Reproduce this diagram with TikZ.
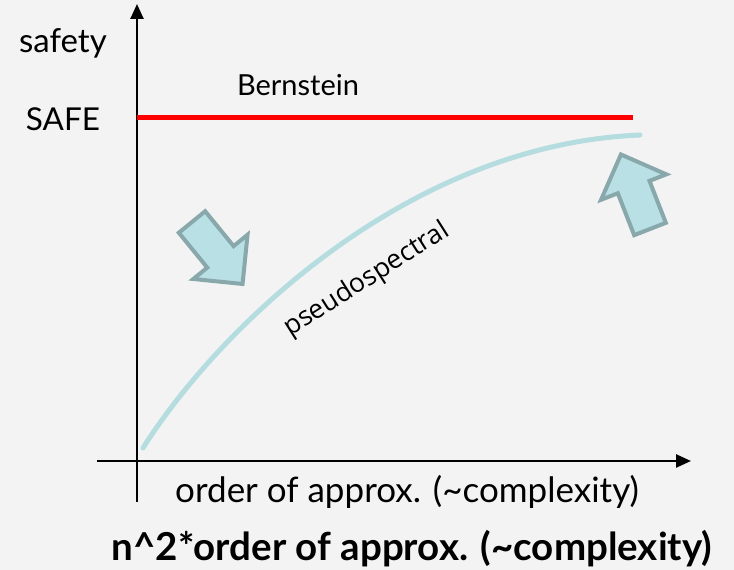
\documentclass[tikz,border=0pt]{standalone}
\usepackage{fontspec}
\setmainfont{Lato}
\newfontfamily\curvefont{Open Sans}
\usetikzlibrary{arrows.meta, positioning}
\definecolor{cbg}{HTML}{F3F3F3}
\definecolor{cred}{HTML}{FF0000}
\definecolor{cteal}{HTML}{B5DDE0}
\definecolor{cfill}{HTML}{B9E0E4}
\definecolor{cedge}{HTML}{88A8AB}
\tikzset{
  every picture/.style={x=1pt, y=1pt},
  axis/.style={line width=2.5pt, -{Triangle[length=15pt, width=13pt]}},
  lbl/.style={font=\fontsize{34}{40}\selectfont, inner sep=0pt},
  bigbold/.style={font=\fontsize{38.5}{44}\selectfont\bfseries, inner sep=0pt},
  bound/.style={draw=cred, line width=5pt},
  spectral/.style={draw=cteal, line width=5pt, line cap=round},
  fatarrow/.style={fill=cfill, draw=cedge, line width=4pt, line join=miter},
}
\newcommand{\fatarrow}[2]{%
  \draw[fatarrow, shift={#1}, rotate=#2]
    (0,-17) -- (45,-17) -- (45,-35) -- (80,0) -- (45,35) -- (45,17) -- (0,17) -- cycle;}

\begin{document}
\begin{tikzpicture}
  \fill[cbg] (0,0) rectangle (734,570);
  \useasboundingbox (0,0) rectangle (734,570);
  % axes
  \coordinate (orig) at (137,109);
  \coordinate (ybot) at (137,68);
  \coordinate (ytop) at (137,566);
  \coordinate (xleft) at (97,109);
  \coordinate (xright) at (691,109);
  \draw[axis] (ybot) -- (ytop);
  \draw[axis] (xleft) -- (xright);
  % Bernstein bound
  \coordinate (safeL) at (137,452);
  \coordinate (safeR) at (633,452);
  \draw[bound] (safeL) -- (safeR);
  % pseudospectral curve
  \coordinate (cstart) at (143,122);
  \coordinate (cend) at (640,435);
  \draw[spectral] (cstart) .. controls (212,232) and (400,425) .. (cend);
  % labels
  \node[lbl, font=\fontsize{33}{38}\selectfont] (safety) at (63,527) {safety};
  \node[lbl, font=\fontsize{31.5}{36}\selectfont] (safe) at (63,451) {SAFE};
  \node[lbl, font=\fontsize{29}{34}\selectfont] (bern) at (298,485) {Bernstein};
  \node[inner sep=0pt, font=\curvefont\fontsize{26.5}{30}\selectfont, rotate=32.4] (pseudo) at (367,290) {pseudospectral};
  \node[lbl, font=\fontsize{35}{40}\selectfont] (order) at (407,78) {order of approx. (\char`~complexity)};
  \node[bigbold] (norder) at (412,21) {n\char`^2*order of approx. (\char`~complexity)};
  % fat arrows
  \fatarrow{(192,348)}{-50.8}
  \fatarrow{(650,341)}{111.3}
\end{tikzpicture}
\end{document}
